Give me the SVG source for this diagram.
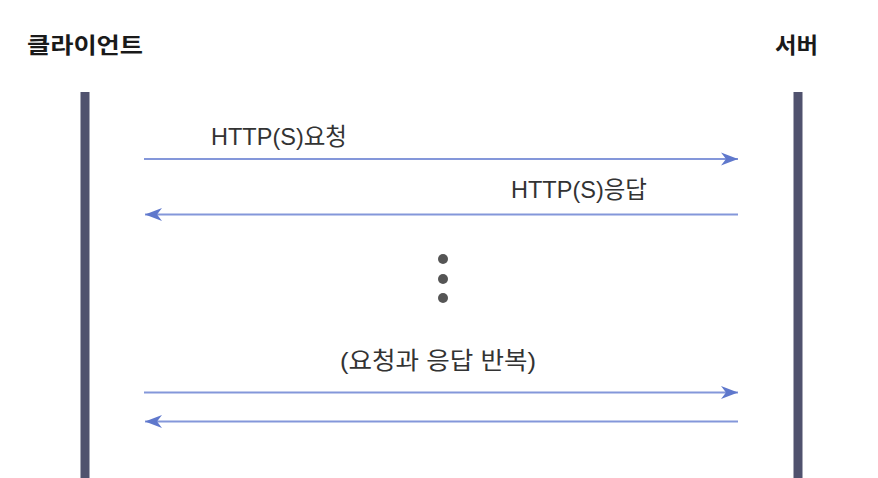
<svg xmlns="http://www.w3.org/2000/svg" width="878" height="478" viewBox="0 0 878 478">
<style>
.title{font-family:"Noto Sans CJK KR","Liberation Sans",sans-serif;font-weight:bold;font-size:22px;fill:#1a1a1a}
.label{font-family:"Liberation Sans","Noto Sans CJK KR",sans-serif;font-size:24px;fill:#333333}
.life{fill:#50526e}
.msg{stroke:#8497da;stroke-width:2;fill:none}
.dot{fill:#555555}
</style>
<defs>
<marker id="arr" markerUnits="userSpaceOnUse" viewBox="-18 -7 19 14" refX="0" refY="0" markerWidth="19" markerHeight="14" orient="auto">
<path d="M0,0 L-17,-6.5 L-12,0 L-17,6.5 Z" fill="#5f78cc"/>
</marker>
</defs>
<g id="client">
<text class="title" x="27" y="53" textLength="116" lengthAdjust="spacingAndGlyphs">클라이언트</text>
<rect class="life" x="80.5" y="92" width="9" height="386"/>
</g>
<g id="server">
<text class="title" x="775" y="53" textLength="43" lengthAdjust="spacingAndGlyphs">서버</text>
<rect class="life" x="793.5" y="92" width="9" height="386"/>
</g>
<g id="connectors">
<line class="msg" x1="144" y1="159" x2="738" y2="159" marker-end="url(#arr)"/>
<line class="msg" x1="738" y1="214.5" x2="145" y2="214.5" marker-end="url(#arr)"/>
<line class="msg" x1="144" y1="392.5" x2="738" y2="392.5" marker-end="url(#arr)"/>
<line class="msg" x1="738" y1="421.5" x2="145" y2="421.5" marker-end="url(#arr)"/>
</g>
<g id="labels">
<text class="label" x="211" y="145" textLength="136" lengthAdjust="spacingAndGlyphs">HTTP(S)요청</text>
<text class="label" x="511" y="198" textLength="136" lengthAdjust="spacingAndGlyphs">HTTP(S)응답</text>
<text class="label" x="340" y="369" textLength="196" lengthAdjust="spacingAndGlyphs">(요청과 응답 반복)</text>
</g>
<g id="ellipsis">
<circle class="dot" cx="443" cy="259" r="5"/>
<circle class="dot" cx="443" cy="279" r="5"/>
<circle class="dot" cx="443" cy="298" r="5"/>
</g>
</svg>
